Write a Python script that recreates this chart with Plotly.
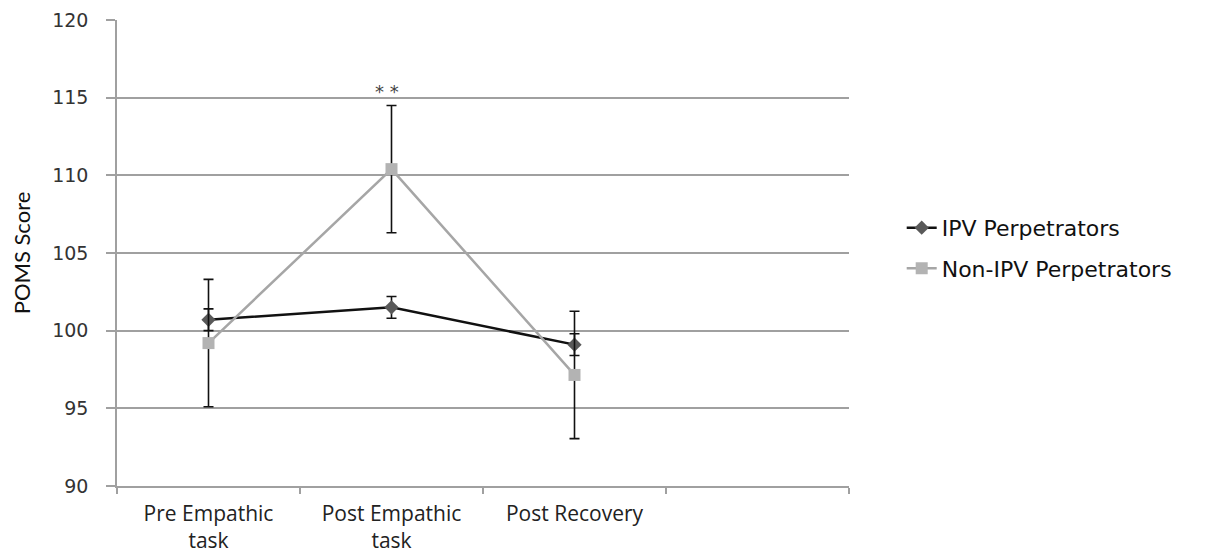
import plotly.graph_objects as go

categories = ["Pre Empathic<br>task", "Post Empathic<br>task", "Post Recovery", " "]
ipv_values = [100.7, 101.5, 99.1]
ipv_err = [0.7, 0.7, 0.7]
non_ipv_values = [99.2, 110.4, 97.15]
non_ipv_err = [4.1, 4.1, 4.1]
y_ticks = [90, 95, 100, 105, 110, 115, 120]

fig = go.Figure()

fig.add_trace(go.Scatter(
    x=categories[:3], y=ipv_values, name="IPV Perpetrators",
    mode="lines+markers", legendgroup="a",
    line=dict(color="#111111", width=2.5),
    marker=dict(symbol="diamond", size=11, color="#595959"),
    error_y=dict(type="data", array=ipv_err, color="#111111", thickness=1.6, width=5),
))
fig.add_trace(go.Scatter(
    x=categories[:3], y=non_ipv_values, name="Non-IPV Perpetrators",
    mode="lines+markers", legendgroup="b",
    line=dict(color="#A6A6A6", width=2.5),
    marker=dict(symbol="square", size=12, color="#B3B3B3"),
    error_y=dict(type="data", array=non_ipv_err, color="#111111", thickness=1.6, width=5),
))

fig.add_annotation(x=categories[1], y=115.0, text="* *", showarrow=False,
                   font=dict(family="DejaVu Sans", size=18, color="#444444"),
                   xshift=-5, yshift=-6, yanchor="bottom")

fig.update_layout(
    width=1223, height=548,
    margin=dict(l=109, r=382, t=12, b=70),
    paper_bgcolor="white", plot_bgcolor="white",
    showlegend=True,
    legend=dict(x=1.072, y=0.51, xanchor="left", yanchor="middle",
                traceorder="grouped",
                font=dict(family="DejaVu Sans", size=22, color="#111111"),
                itemwidth=30, tracegroupgap=9),
    xaxis=dict(
        type="category", categoryorder="array", categoryarray=categories,
        range=[-0.5, 3.5], tickson="boundaries", ticks="outside", ticklen=6,
        tickcolor="#A0A0A0", tickwidth=1.5,
        showline=True, linecolor="#A0A0A0", linewidth=1.5,
        showgrid=False, zeroline=False, automargin=False,
        ticklabelstandoff=8,
        tickfont=dict(family="Open Sans", size=21, color="#222222"),
    ),
    yaxis=dict(
        range=[90, 120], tickvals=y_ticks, ticks="outside", ticklen=9,
        tickcolor="#A0A0A0", tickwidth=1.5,
        showline=True, linecolor="#A0A0A0", linewidth=1.5,
        showgrid=True, gridcolor="#A0A0A0", gridwidth=1.5,
        zeroline=False, automargin=False,
        ticklabelstandoff=14,
        tickfont=dict(family="DejaVu Sans", size=19, color="#333333"),
        title=dict(text="POMS Score", font=dict(family="Lato", size=22, color="#111111"), standoff=18),
    ),
)

fig.write_html("out.html")
